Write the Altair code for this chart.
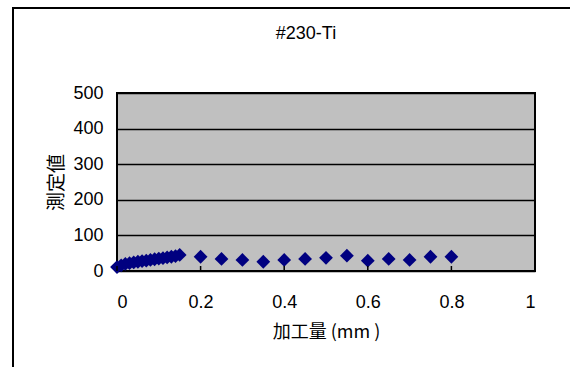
import altair as alt
import pandas as pd

# Measured values (x: machining amount in mm, y: measured value)
cluster_x = [0.00, 0.01, 0.02, 0.03, 0.04, 0.05, 0.06, 0.07, 0.08, 0.09,
             0.10, 0.11, 0.12, 0.13, 0.14, 0.15]
cluster_y = [11, 16, 20, 22, 24, 26, 28, 29, 31, 33, 35, 36, 38, 40, 42, 45]
coarse_x = [0.20, 0.25, 0.30, 0.35, 0.40, 0.45, 0.50, 0.55, 0.60, 0.65, 0.70, 0.75, 0.80]
coarse_y = [40, 34, 31, 26, 31, 34, 37, 43, 29, 34, 31, 40, 40]

x_ticks = [0, 0.2, 0.4, 0.6, 0.8, 1]
y_ticks = [0, 100, 200, 300, 400, 500]

df = pd.DataFrame({"x": cluster_x + coarse_x, "y": cluster_y + coarse_y})

LATIN = "Liberation Sans"
CJK = "Noto Sans CJK JP"
W, H = 418, 178

points = alt.Chart(df).mark_point(
    shape="diamond", filled=True, size=190, color="#000080", opacity=1
).encode(
    x=alt.X("x:Q",
            scale=alt.Scale(domain=[0, 1], nice=False, zero=False),
            axis=alt.Axis(values=x_ticks, format="~g", grid=False, ticks=False,
                          domain=False, labelFont=LATIN, labelFontSize=18,
                          labelColor="black", labelPadding=22,
                          title="加工量 (mm )", titleFont=CJK, titleFontSize=18,
                          titleFontWeight="normal", titleColor="black",
                          titlePadding=12)),
    y=alt.Y("y:Q",
            scale=alt.Scale(domain=[0, 500], nice=False),
            axis=alt.Axis(values=y_ticks, grid=True, gridColor="black",
                          gridWidth=1.5, gridOpacity=1, ticks=False, domain=False,
                          labelFont=LATIN, labelFontSize=18, labelColor="black",
                          labelPadding=14, title="測定値", titleFont=CJK,
                          titleFontSize=19, titleFontWeight="normal",
                          titleColor="black", titleAngle=-90,
                          titleBaseline="middle", titleAlign="center",
                          titleX=-61, titleY=H / 2)),
)

# short inward tick marks on the x axis
tick_df = pd.DataFrame({"t": x_ticks})
xticks = alt.Chart(tick_df).mark_rule(color="black", strokeWidth=1.5).encode(
    x="t:Q", y=alt.value(H - 5), y2=alt.value(H)
)

# outer chart frame (left and top edges)
one = alt.Data(values=[{}])
frame_left = alt.Chart(one).mark_rule(color="black", strokeWidth=2).encode(
    x=alt.value(-104), y=alt.value(-85), y2=alt.value(300)
)
frame_top = alt.Chart(one).mark_rule(color="black", strokeWidth=2).encode(
    x=alt.value(-105), x2=alt.value(470), y=alt.value(-85)
)

chart = alt.layer(points, xticks, frame_left, frame_top).properties(
    width=W,
    height=H,
    autosize=alt.AutoSizeParams(type="none"),
    padding={"left": 117, "top": 93, "right": 35, "bottom": 96},
    background="white",
    title=alt.TitleParams("#230-Ti", font=LATIN, fontSize=18,
                          fontWeight="normal", color="black", offset=-36,
                          dx=-20),
).configure_view(
    fill="#C0C0C0", stroke="black", strokeWidth=2
)

chart.save("out.html", embed_options={"renderer": "svg", "actions": False})
